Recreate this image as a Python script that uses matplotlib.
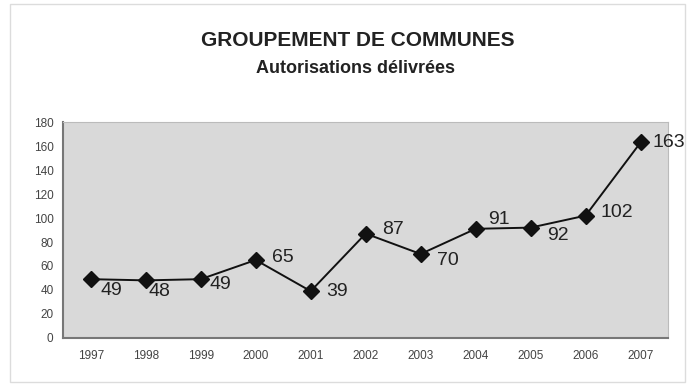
import numpy as np
import matplotlib.pyplot as plt
from matplotlib.patches import Rectangle

plt.rcParams['font.family'] = ['Liberation Sans', 'DejaVu Sans']

years = ['1997', '1998', '1999', '2000', '2001', '2002', '2003', '2004', '2005', '2006', '2007']
autorisations = [49, 48, 49, 65, 39, 87, 70, 91, 92, 102, 163]
# label offsets in points (dx, dy) for each value
label_offsets = [(7, -8), (2, -8), (6, -3.5), (12, 1.5), (11, 0), (12, 3), (12, -5),
                 (9, 6.5), (12, -6), (11, 2), (8.5, 0)]

fig = plt.figure(figsize=(6.88, 3.84), dpi=100)
fig.patch.set_facecolor('white')
fig.patches.append(Rectangle((0.015, 0.005), 0.98, 0.985, transform=fig.transFigure,
                             fill=False, edgecolor='#dcdcdc', linewidth=1.0))

ax = fig.add_axes([0.092, 0.12, 0.879, 0.562])
ax.set_facecolor('#d9d9d9')

x = np.arange(len(years))
ax.plot(x, autorisations, color='#111111', linewidth=1.4, marker='D', markersize=8.5,
        markerfacecolor='#111111', markeredgecolor='#111111')

for xi, v, (dx, dy) in zip(x, autorisations, label_offsets):
    ax.annotate(str(v), (xi, v), xytext=(dx, dy), textcoords='offset points',
                ha='left', va='center', fontsize=14, color='#222222')

ax.set_xlim(-0.5, len(years) - 0.5)
ax.set_ylim(0, 180)
ax.set_yticks(np.arange(0, 181, 20))
ax.set_xticks(x)
ax.set_xticklabels(years)
ax.tick_params(axis='both', labelsize=8.5, colors='#444444', length=0, pad=7)
ax.tick_params(axis='x', pad=9)

for side in ['top', 'right']:
    ax.spines[side].set_color('#bbbbbb')
    ax.spines[side].set_linewidth(0.8)
for side in ['left', 'bottom']:
    ax.spines[side].set_color('#777777')
    ax.spines[side].set_linewidth(1.5)

fig.text(0.52, 0.895, 'GROUPEMENT DE COMMUNES', ha='center', va='center',
         fontsize=15, fontweight='bold', color='#222222')
fig.text(0.517, 0.822, 'Autorisations délivrées', ha='center', va='center',
         fontsize=13, fontweight='bold', color='#222222')

fig.savefig('out.png', dpi=100)
